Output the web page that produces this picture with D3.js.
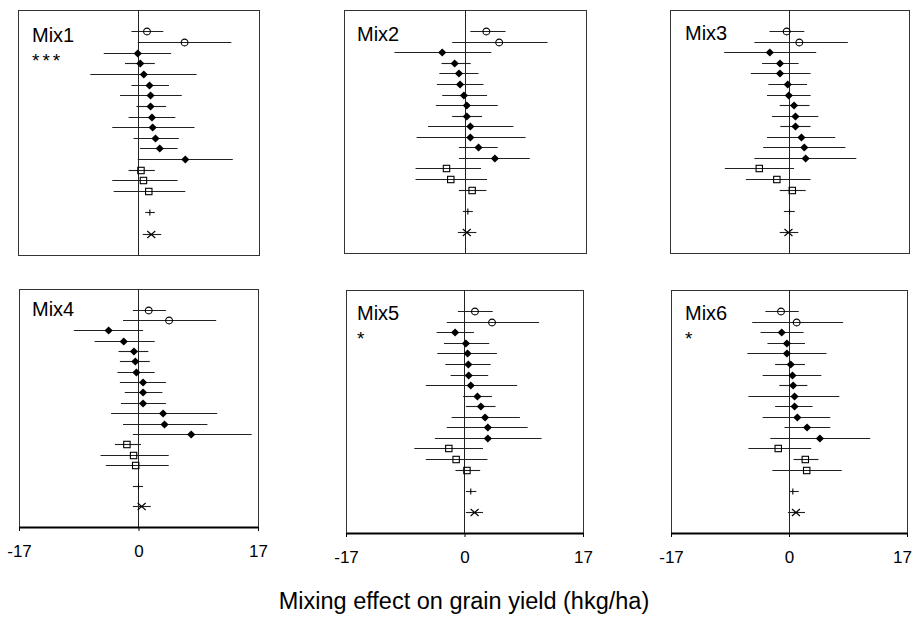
<!DOCTYPE html>
<html>
<head>
<meta charset="utf-8">
<script src="https://cdn.jsdelivr.net/npm/d3@7/dist/d3.min.js"></script>
<style>
  body { margin: 0; background: #fff; }
  text { font-family: Arial, "Liberation Sans", sans-serif; fill: #000; }
</style>
</head>
<body>
<div class="chart"></div>
<script>
// Mixing effect per mixture: estimate with lower / upper bound (hkg/ha)
const mixNames = ["Mix1", "Mix2", "Mix3", "Mix4", "Mix5", "Mix6"];
const mixStars = ["***", "", "", "", "*", "*"];
const tickLabels = [-17, 0, 17];

// row slot of every estimate (gap before the last two rows)
const rowSlots = [0, 1, 2, 3, 4, 5, 6, 7, 8, 9, 10, 11, 12, 13, 14, 15, 17, 19];
const rowMarkers = ["circle", "circle",
  "diamond", "diamond", "diamond", "diamond", "diamond", "diamond",
  "diamond", "diamond", "diamond", "diamond", "diamond",
  "square", "square", "square", "plus", "cross"];

const mix1Est  = [1.2, 6.5, -0.1, 0.25, 0.75, 1.55, 1.7, 1.7, 1.9, 2.0, 2.4, 3.0, 6.6, 0.35, 0.7, 1.45, 1.6, 1.8];
const mix1Low  = [-1.0, -0.1, -4.9, -1.9, -6.8, -1.0, -2.6, -0.3, -1.4, -3.7, -0.7, 0.2, -0.1, -1.4, -3.7, -3.5, 0.95, 0.6];
const mix1High = [3.5, 13.1, 4.6, 2.3, 8.2, 4.3, 6.1, 3.9, 5.2, 7.9, 5.7, 5.5, 13.3, 2.3, 5.5, 6.6, 2.3, 3.2];

const mix2Est  = [3.0, 4.8, -3.2, -1.45, -0.85, -0.7, -0.15, 0.25, 0.25, 0.75, 0.75, 1.9, 4.2, -2.6, -2.0, 1.0, 0.4, 0.25];
const mix2Low  = [0.75, -1.8, -9.9, -3.3, -3.6, -3.95, -3.2, -4.1, -1.8, -5.2, -6.8, -0.85, -0.85, -6.95, -6.95, -0.85, -0.3, -1.0];
const mix2High = [5.7, 11.6, 3.7, 0.8, 1.9, 2.6, 3.1, 4.6, 2.4, 6.8, 8.5, 4.6, 9.1, 2.25, 3.1, 3.0, 1.1, 1.6];

const mix3Est  = [-0.4, 1.4, -2.8, -1.35, -1.35, -0.25, -0.1, 0.65, 0.85, 0.85, 1.7, 2.1, 2.3, -4.3, -1.8, 0.4, 0.0, -0.15];
const mix3Low  = [-2.85, -5.0, -9.3, -3.9, -5.5, -3.0, -3.2, -1.4, -2.5, -1.3, -3.2, -3.75, -5.0, -9.2, -6.2, -1.4, -0.8, -1.4];
const mix3High = [2.1, 8.3, 3.8, 1.3, 3.0, 2.5, 3.0, 2.85, 4.1, 3.0, 6.5, 7.95, 9.5, 0.65, 3.0, 2.3, 0.75, 1.25];

const mix4Est  = [1.45, 4.35, -4.25, -2.1, -0.65, -0.45, -0.3, 0.65, 0.65, 0.65, 3.5, 3.7, 7.5, -1.65, -0.7, -0.4, 0.0, 0.45];
const mix4Low  = [-0.8, -2.2, -9.2, -6.25, -2.85, -2.65, -3.0, -2.65, -1.95, -2.5, -3.9, -2.2, -0.8, -3.35, -5.4, -4.65, -0.8, -0.8];
const mix4High = [3.9, 11.05, 0.65, 2.3, 1.4, 1.6, 2.3, 3.9, 3.4, 3.9, 11.2, 9.8, 16.1, 0.35, 4.3, 4.3, 0.65, 1.75];

const mix5Est  = [1.5, 3.95, -1.35, 0.2, 0.45, 0.55, 0.6, 0.9, 1.85, 2.35, 2.95, 3.35, 3.35, -2.25, -1.2, 0.35, 0.9, 1.45];
const mix5Low  = [-0.95, -2.55, -4.0, -2.95, -3.9, -2.75, -2.0, -5.55, -0.2, 0.2, -1.85, -2.55, -4.25, -7.2, -5.55, -1.3, 0.2, 0.2];
const mix5High = [4.05, 10.7, 1.35, 3.55, 4.65, 3.75, 3.4, 7.55, 3.95, 4.45, 7.95, 9.05, 11.05, 2.65, 3.3, 2.25, 1.7, 2.65];

const mix6Est  = [-1.15, 1.1, -1.05, -0.3, -0.3, 0.25, 0.5, 0.6, 0.8, 0.8, 1.2, 2.6, 4.45, -1.55, 2.35, 2.55, 0.55, 1.0];
const mix6Low  = [-3.4, -5.3, -4.1, -3.1, -6.0, -2.0, -3.8, -1.4, -5.85, -2.0, -3.8, -0.65, -2.7, -5.85, 0.65, -2.4, 0.15, -0.15];
const mix6High = [1.4, 7.8, 2.1, 2.3, 5.4, 2.3, 4.65, 2.65, 7.25, 3.4, 5.95, 5.95, 11.7, 3.2, 4.25, 7.6, 1.4, 2.3];

const mixEst  = [mix1Est, mix2Est, mix3Est, mix4Est, mix5Est, mix6Est];
const mixLow  = [mix1Low, mix2Low, mix3Low, mix4Low, mix5Low, mix6Low];
const mixHigh = [mix1High, mix2High, mix3High, mix4High, mix5High, mix6High];

// Panel boxes in page pixels (layout only)
const panelBoxes = [
  { x0: 18,  x1: 259, y0: 10,  y1: 255, dx: 14, dy: 32, axis: false },
  { x0: 344, x1: 586, y0: 10,  y1: 253, dx: 13, dy: 31, axis: false },
  { x0: 670, x1: 909, y0: 10,  y1: 253, dx: 15, dy: 30, axis: false },
  { x0: 19,  x1: 258, y0: 289, y1: 527, dx: 13, dy: 27, axis: true },
  { x0: 346, x1: 583, y0: 290, y1: 533, dx: 11, dy: 30, axis: true },
  { x0: 671, x1: 907, y0: 290, y1: 533, dx: 14, dy: 30, axis: true }
];

const svg = d3.select(".chart")
  .append("svg")
  .attr("width", 913)
  .attr("height", 617);

mixNames.forEach(function (name, i) {
  drawPanel(i);
});

// Axis title
svg.append("text")
  .attr("x", 464)
  .attr("y", 609)
  .attr("text-anchor", "middle")
  .style("font-size", "23.5px")
  .text("Mixing effect on grain yield (hkg/ha)");

//A function that draws one forest-plot panel
function drawPanel(i) {
  const box = panelBoxes[i];
  const x = d3.scaleLinear().domain([-17, 17]).range([box.x0, box.x1]);
  const y = d3.scaleLinear().domain([-2, 21]).range([box.y0, box.y1]);

  const rows = rowSlots.map(function (slot, k) {
    return { slot: slot, marker: rowMarkers[k], est: mixEst[i][k], lo: mixLow[i][k], hi: mixHigh[i][k] };
  });

  const g = svg.append("g");

  // frame
  if (box.axis) {
    g.append("path")
      .attr("d", "M" + box.x0 + "," + box.y1 + "V" + box.y0 + "H" + box.x1 + "V" + box.y1)
      .attr("fill", "none")
      .attr("stroke", "#333")
      .attr("stroke-width", 1)
      .attr("shape-rendering", "crispEdges");

    const axis = g.append("g")
      .attr("transform", "translate(0," + box.y1 + ")")
      .call(d3.axisBottom(x)
        .tickValues(tickLabels)
        .tickFormat(function (d) { return String(d); })
        .tickSize(4).tickPadding(14).tickSizeOuter(0));
    axis.select(".domain").attr("stroke", "#000").attr("stroke-width", 2);
    axis.selectAll(".tick line").attr("stroke", "#000").attr("stroke-width", 1);
    axis.selectAll("text")
      .style("font-size", "17px")
      .style("font-family", "Arial, 'Liberation Sans', sans-serif")
      .attr("fill", "#000")
      .attr("dx", function (d) { return (d === 17 && box.x1 > 900) ? "-5" : "0"; });
  } else {
    g.append("rect")
      .attr("x", box.x0)
      .attr("y", box.y0)
      .attr("width", box.x1 - box.x0)
      .attr("height", box.y1 - box.y0)
      .attr("fill", "none")
      .attr("stroke", "#333")
      .attr("stroke-width", 1)
      .attr("shape-rendering", "crispEdges");
  }

  // zero line
  g.append("line")
    .attr("x1", x(0)).attr("x2", x(0))
    .attr("y1", box.y0).attr("y2", box.y1)
    .attr("stroke", "#222")
    .attr("stroke-width", 1)
    .attr("shape-rendering", "crispEdges");

  // interval lines
  g.selectAll(".ci")
    .data(rows)
    .enter()
    .append("line")
    .attr("class", "ci")
    .attr("x1", function (d) { return x(d.lo); })
    .attr("x2", function (d) { return x(d.hi); })
    .attr("y1", function (d) { return Math.round(y(d.slot)) + 0.5; })
    .attr("y2", function (d) { return Math.round(y(d.slot)) + 0.5; })
    .attr("stroke", "#222")
    .attr("stroke-width", 1.1);

  // markers
  const pts = g.selectAll(".pt")
    .data(rows)
    .enter()
    .append("g")
    .attr("class", "pt")
    .attr("transform", function (d) {
      return "translate(" + x(d.est) + "," + (Math.round(y(d.slot)) + 0.5) + ")";
    });

  pts.filter(function (d) { return d.marker === "circle"; })
    .append("circle")
    .attr("r", 3.4)
    .attr("fill", "none")
    .attr("stroke", "#000")
    .attr("stroke-width", 1.1);

  pts.filter(function (d) { return d.marker === "diamond"; })
    .append("path")
    .attr("d", d3.symbol(d3.symbolSquare, 34)())
    .attr("transform", "rotate(45)")
    .attr("fill", "#000");

  pts.filter(function (d) { return d.marker === "square"; })
    .append("rect")
    .attr("x", -3.2).attr("y", -3.2)
    .attr("width", 6.4).attr("height", 6.4)
    .attr("fill", "none")
    .attr("stroke", "#000")
    .attr("stroke-width", 1.1);

  pts.filter(function (d) { return d.marker === "plus"; })
    .append("line")
    .attr("y1", -3).attr("y2", 3)
    .attr("stroke", "#000")
    .attr("stroke-width", 1.1);

  pts.filter(function (d) { return d.marker === "cross"; })
    .append("path")
    .attr("d", "M-4,-3.5L4,3.5M-4,3.5L4,-3.5")
    .attr("stroke", "#000")
    .attr("stroke-width", 1.1);

  // label and significance stars
  g.append("text")
    .attr("x", box.x0 + box.dx)
    .attr("y", box.y0 + box.dy)
    .style("font-size", "20px")
    .text(mixNames[i]);

  if (mixStars[i]) {
    g.append("text")
      .attr("x", box.x0 + box.dx)
      .attr("y", box.y0 + box.dy + 25)
      .style("font-size", "19px")
      .style("letter-spacing", "3px")
      .attr("fill", "#555")
      .text(mixStars[i]);
  }
}
</script>
</body>
</html>
